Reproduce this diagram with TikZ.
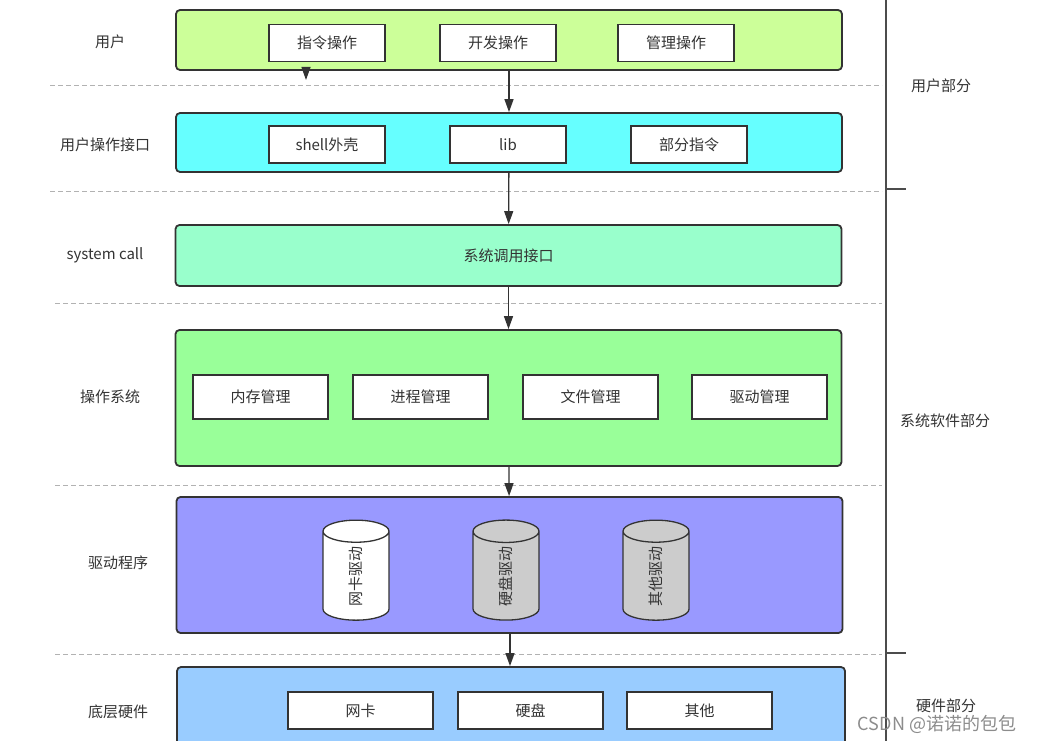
\documentclass[tikz,border=0pt]{standalone}
\usepackage{fontspec}
\setmainfont{Noto Sans CJK SC}
\usetikzlibrary{arrows.meta, shapes.geometric}
\definecolor{txtgray}{HTML}{333333}
\definecolor{usergreen}{HTML}{CCFF99}
\definecolor{ifcyan}{HTML}{66FFFF}
\definecolor{sysmint}{HTML}{99FFCC}
\definecolor{osgreen}{HTML}{99FF99}
\definecolor{drvpurple}{HTML}{9999FF}
\definecolor{hwblue}{HTML}{99CCFF}
\definecolor{cylgray}{HTML}{CCCCCC}

\begin{document}
\begin{tikzpicture}[
    x=1pt, y=-1pt,
    every node/.style={font=\fontsize{15}{18}\selectfont, text=txtgray},
    layer/.style={draw=txtgray, line width=1.8, rounded corners=4, minimum width=666, inner sep=0},
    inbox/.style={draw=black!80, line width=1.3, fill=white, minimum height=37, inner sep=0},
    drv/.style={cylinder, draw=black!80, line width=1.3, rotate=90, minimum width=66, minimum height=100, aspect=1.6, inner sep=0},
    arr/.style={-{Triangle[length=13, width=9]}, line width=1.3, draw=black!80},
    sep/.style={dashed, dash pattern=on 5 off 3, line width=1, draw=black!30},
    side/.style={line width=2, draw=black!70},
]
\useasboundingbox (0,0) rectangle (1039,741);

% ============ layers ============
\node[layer, fill=usergreen, minimum height=60] (l_user) at (509,40) {};
\node[inbox, minimum width=116] (u_cmd) at (327,43) {指令操作};
\node[inbox, minimum width=116] (u_dev) at (498,43) {开发操作};
\node[inbox, minimum width=116] (u_mgr) at (676,43) {管理操作};

\node[layer, fill=ifcyan, minimum height=59] (l_if) at (509,142.5) {};
\node[inbox, minimum width=116] (i_shell) at (327,144.5) {shell外壳};
\node[inbox, minimum width=116] (i_lib) at (508,144.5) {lib};
\node[inbox, minimum width=116] (i_part) at (689,144.5) {部分指令};

\node[layer, fill=sysmint, minimum height=61] (l_sys) at (508.5,255.5) {系统调用接口};

\node[layer, fill=osgreen, minimum height=136] (l_os) at (508.5,398) {};
\node[inbox, minimum width=135, minimum height=44] (o_mem) at (260.5,397) {内存管理};
\node[inbox, minimum width=135, minimum height=44] (o_proc) at (420.5,397) {进程管理};
\node[inbox, minimum width=135, minimum height=44] (o_file) at (590.5,397) {文件管理};
\node[inbox, minimum width=135, minimum height=44] (o_drv) at (759.5,397) {驱动管理};

\node[layer, fill=drvpurple, minimum height=136] (l_drv) at (509.5,565) {};
\node[drv, fill=white] (d_net) at (356,576) {网卡驱动};
\node[drv, fill=cylgray] (d_disk) at (506,576) {硬盘驱动};
\node[drv, fill=cylgray] (d_other) at (656,576) {其他驱动};

\node[layer, fill=hwblue, minimum height=96, minimum width=668] (l_hw) at (511,715) {};
\node[inbox, minimum width=145] (h_net) at (360.5,710.5) {网卡};
\node[inbox, minimum width=145] (h_disk) at (530.5,710.5) {硬盘};
\node[inbox, minimum width=145] (h_other) at (699.5,710.5) {其他};

% ============ left labels ============
\node (n_user) at (110,42) {用户};
\node (n_if) at (105,145) {用户操作接口};
\node (n_sys) at (105,255) {system call};
\node (n_os) at (110,397) {操作系统};
\node (n_drv) at (118,563) {驱动程序};
\node (n_hw) at (118,712) {底层硬件};

% ============ separators ============
\draw[sep] (50,86) -- (882,86);
\draw[sep] (50,191) -- (882,191);
\draw[sep] (55,303) -- (882,303);
\draw[sep] (55,485) -- (882,485);
\draw[sep] (55,654) -- (882,654);

% ============ arrows ============
\coordinate (stub) at (306,80);
\draw[arr] (stub |- l_user.south) -- (stub);
\draw[arr] (l_user) -- (l_if);
\draw[arr] (l_if) -- (l_sys);
\draw[arr] (l_sys) -- (l_os);
\draw[arr] (l_os) -- (l_drv);
\draw[arr] (l_drv.south -| 510,0) -- (l_hw.north -| 510,0);

% ============ right side ============
\draw[side] (886,0) -- (886,741);
\draw[side] (886,189) -- (906,189);
\draw[side] (886,653) -- (906,653);
\node (p_user) at (941,86) {用户部分};
\node (p_sys) at (945,421) {系统软件部分};
\node (p_hw) at (946,706) {硬件部分};

\node[text=black!45, font=\fontsize{18}{21}\selectfont] (mark) at (937,724) {CSDN @诺诺的包包};

\end{tikzpicture}
\end{document}
